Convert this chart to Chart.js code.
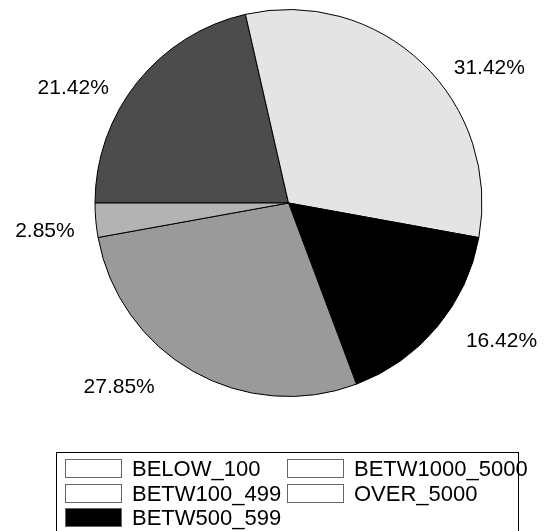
<!DOCTYPE html>
<html>
<head>
<meta charset="utf-8">
<script src="https://cdn.jsdelivr.net/npm/chart.js@4"></script>
<style>
  html, body { margin: 0; padding: 0; background: #fff; }
  #wrap { position: relative; width: 544px; height: 531px; overflow: hidden; }
  #c { position: absolute; left: 0; top: 0; }
  #legend { position: absolute; left: 56px; top: 452px; width: 463px; height: 100px; border: 1px solid #000; box-sizing: border-box; }
  .sw { position: absolute; width: 57px; height: 19px; box-sizing: border-box; border: 1px solid #666; }
  .lt { position: absolute; height: 19px; line-height: 19px; font-family: "Liberation Sans", Arial, sans-serif; font-size: 22px; color: #000; white-space: nowrap; }
</style>
</head>
<body>
<div id="wrap">
  <canvas id="c" width="544" height="531"></canvas>
  <div id="legend"></div>
</div>
<script>
// Categories in data order (drawn clockwise starting at 9 o'clock)
const categories = ["BELOW_100", "BETW100_499", "BETW500_599", "BETW1000_5000", "OVER_5000"];
// Percent share of each category
const shares = [21.42, 31.42, 16.42, 27.85, 2.85];
// Slice fill colours
const sliceColors = ["#4c4c4c", "#e4e4e4", "#000000", "#9a9a9a", "#b3b3b3"];
// Legend swatch fills as shown in the reference legend
const legendFills = ["#ffffff", "#ffffff", "#000000", "#ffffff", "#ffffff"];

const labelPlugin = {
  id: 'outerLabels',
  afterDatasetsDraw(chart) {
    const ctx = chart.ctx;
    const meta = chart.getDatasetMeta(0);
    ctx.save();
    ctx.font = '21px "Liberation Sans", Arial, sans-serif';
    ctx.fillStyle = '#000';
    ctx.textBaseline = 'middle';
    meta.data.forEach((arc, i) => {
      const p = arc.getProps(['x', 'y', 'startAngle', 'endAngle', 'outerRadius'], true);
      const mid = (p.startAngle + p.endAngle) / 2;
      const c = Math.cos(mid), s = Math.sin(mid);
      const r = p.outerRadius;
      const right = c >= 0;
      const dx = r * 0.824 * Math.abs(c) + 55;
      const px = p.x + (right ? dx : -dx);
      const py = p.y + r * 1.036 * s + 10;
      ctx.textAlign = right ? 'left' : 'right';
      ctx.fillText(shares[i].toFixed(2) + '%', px, py);
    });
    ctx.restore();
  }
};

new Chart(document.getElementById('c'), {
  type: 'pie',
  data: {
    labels: categories,
    datasets: [{
      data: shares,
      backgroundColor: sliceColors,
      borderColor: '#000',
      borderWidth: 1
    }]
  },
  options: {
    responsive: false,
    animation: false,
    rotation: -90,
    layout: { padding: { left: 94, right: 61, top: 9, bottom: 134 } },
    plugins: { legend: { display: false }, tooltip: { enabled: false } }
  },
  plugins: [labelPlugin]
});

// Legend: column-major, three rows per column
const legend = document.getElementById('legend');
categories.forEach((name, i) => {
  const col = Math.floor(i / 3), row = i % 3;
  const left = 8 + col * 222;
  const top = 6 + row * 24.5;
  const sw = document.createElement('div');
  sw.className = 'sw';
  sw.style.left = left + 'px';
  sw.style.top = top + 'px';
  sw.style.background = legendFills[i];
  legend.appendChild(sw);
  const t = document.createElement('div');
  t.className = 'lt';
  t.style.left = (left + 67) + 'px';
  t.style.top = top + 'px';
  t.textContent = name;
  legend.appendChild(t);
});
</script>
</body>
</html>
